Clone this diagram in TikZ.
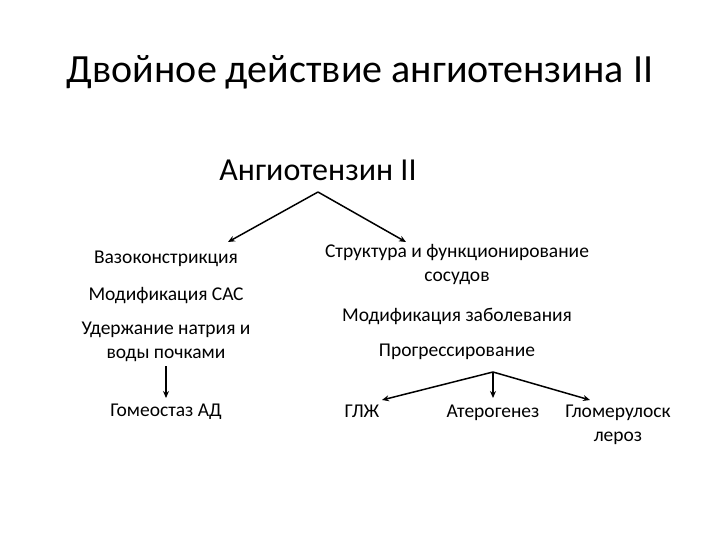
\documentclass[tikz,border=0pt]{standalone}
\usepackage{fontspec}
\setmainfont{Carlito}
\usetikzlibrary{arrows.meta}
\begin{document}
\begin{tikzpicture}[x=1pt,y=-1pt,
  lbl/.style={align=center,font=\fontsize{19.5}{24}\selectfont,inner sep=0pt},
  arr/.style={-{Stealth[length=7pt,width=6pt]},line width=1.5pt}]
\useasboundingbox (0,0) rectangle (720,540);
\node[inner sep=0pt,font=\fontsize{40}{46}\selectfont] (title) at (360,72) {Двойное действие ангиотензина II};
\node[inner sep=0pt,font=\fontsize{32}{38}\selectfont] (ang) at (318,170) {Ангиотензин II};
\coordinate (apex) at (318,192);
\node[lbl] (vaso) at (166,259) {Вазоконстрикция};
\node[lbl] (sas) at (166,296) {Модификация САС};
\node[lbl] (na) at (166,342) {Удержание натрия и\\воды почками};
\node[lbl] (gom) at (166,412) {Гомеостаз АД};
\node[lbl] (str) at (457,265) {Структура и функционирование\\сосудов};
\node[lbl] (mod) at (457,316) {Модификация заболевания};
\node[lbl] (prog) at (457,352) {Прогрессирование};
\node[lbl,anchor=north] (glzh) at (362,405) {ГЛЖ};
\node[lbl,anchor=north] (ater) at (493,405) {Атерогенез};
\node[lbl,anchor=north] (glom) at (618,405) {Гломерулоск\\лероз};
\coordinate (a2) at (493,372);
\coordinate (l1) at (228,242);
\coordinate (r1) at (406,242);
\draw[arr] (apex) -- (l1);
\draw[arr] (apex) -- (r1);
\draw[arr] (166,366) -- (166,398);
\draw[arr] (a2) -- (382,400);
\draw[arr] (a2) -- (493,398);
\draw[arr] (a2) -- (590,400);
\end{tikzpicture}
\end{document}
